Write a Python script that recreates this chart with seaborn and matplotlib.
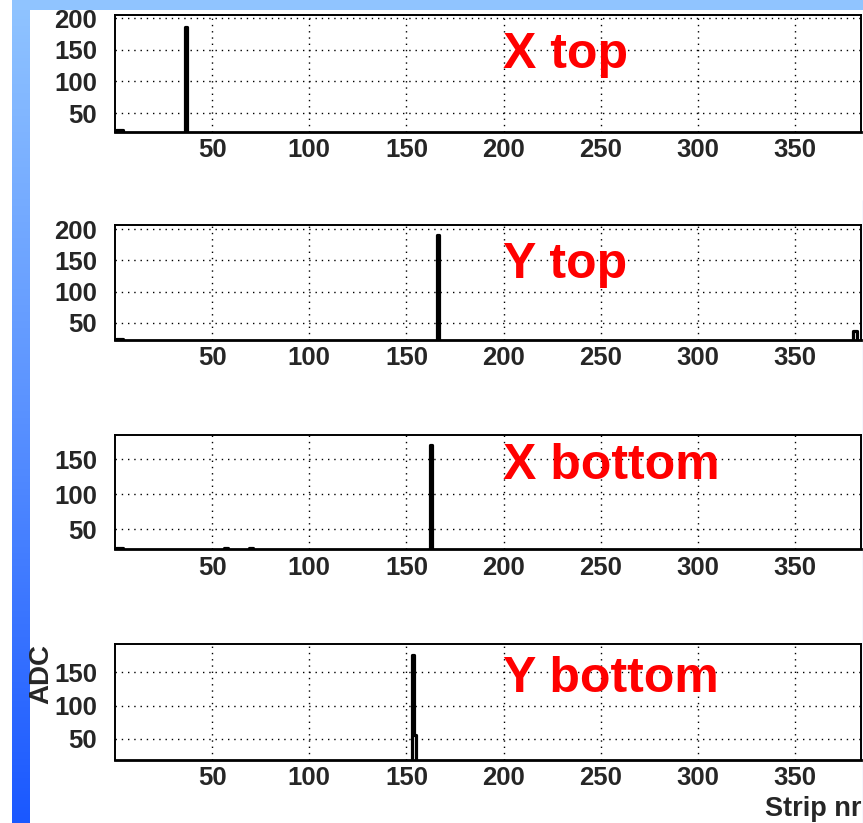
import numpy as np
import pandas as pd
import matplotlib
matplotlib.use("Agg")
import matplotlib.pyplot as plt
import seaborn as sns
from matplotlib.ticker import MultipleLocator, FixedLocator
from matplotlib.colors import LinearSegmentedColormap

# ---------------- data ----------------
N_STRIPS = 384
panel_names = ["X top", "Y top", "X bottom", "Y bottom"]

# non-zero strips (strip number, ADC) for each panel; all other strips are ~0
x_top_strips = [0, 1, 2, 3, 36]
x_top_adc = [23, 23, 23, 23, 186]
y_top_strips = [0, 1, 2, 3, 166, 380, 381]
y_top_adc = [24, 24, 24, 24, 191, 37, 37]
x_bot_strips = [0, 1, 2, 3, 56, 57, 69, 70, 162]
x_bot_adc = [23, 23, 23, 23, 23, 23, 23, 23, 170]
y_bot_strips = [153, 154]
y_bot_adc = [176, 56]

x_tick_values = [50, 100, 150, 200, 250, 300, 350]
y_tick_values = [[50, 100, 150, 200], [50, 100, 150, 200], [50, 100, 150], [50, 100, 150]]
y_limits = [(20.5, 205), (22, 207), (21, 184.5), (18.5, 192.5)]

panel_data = [(x_top_strips, x_top_adc), (y_top_strips, y_top_adc),
              (x_bot_strips, x_bot_adc), (y_bot_strips, y_bot_adc)]

# ---------------- style ----------------
sns.set_style("white")
plt.rcParams["font.family"] = ["Liberation Sans", "DejaVu Sans"]
plt.rcParams["font.weight"] = "bold"

W, H = 863, 823
fig = plt.figure(figsize=(W / 100, H / 100), dpi=100)

# slide background (blue bars)
bg = fig.add_axes([0, 0, 1, 1], zorder=-10)
bg.axis("off")
cmap = LinearSegmentedColormap.from_list("slide", ["#90c4ff", "#5a92ff", "#1a58ff"])
grad = np.linspace(0, 1, 256).reshape(-1, 1)
bg.imshow(grad, cmap=cmap, extent=[12, 29, H, 0], aspect="auto")
bg.add_patch(plt.Rectangle((12, 0), W - 12, 9.5, color="#90c4ff", lw=0))
bg.plot([862.5, 862.5], [200, H], color="#4a7dff", lw=0.8)
bg.set_xlim(0, W)
bg.set_ylim(H, 0)

# axes geometry in pixels (top, bottom)
left_px, right_px = 115, 861
panel_px = [(15, 131.7), (225, 340), (435, 549.3), (644, 760)]

strips_all = np.arange(N_STRIPS)
for i, (name, (s_list, a_list)) in enumerate(zip(panel_names, panel_data)):
    top, bot = panel_px[i]
    ax = fig.add_axes([left_px / W, 1 - bot / H, (right_px - left_px) / W, (bot - top) / H])
    adc = np.zeros(N_STRIPS)
    adc[np.array(s_list)] = a_list
    df = pd.DataFrame({"strip": strips_all + 0.5, "ADC": adc})
    sns.lineplot(data=df, x="strip", y="ADC", ax=ax, color="black", linewidth=2.3,
                 drawstyle="steps-mid", estimator=None, zorder=3)
    ax.set_xlim(0, N_STRIPS)
    ax.set_ylim(*y_limits[i])
    ax.xaxis.set_major_locator(FixedLocator(x_tick_values))
    ax.xaxis.set_minor_locator(MultipleLocator(25))
    ax.yaxis.set_major_locator(FixedLocator(y_tick_values[i]))
    ax.yaxis.set_minor_locator(MultipleLocator(25))
    ax.tick_params(which="major", direction="in", length=10.5, width=1.4,
                   labelsize=18.5, color="black")
    ax.tick_params(which="minor", direction="in", length=5.5, width=1.4, color="black")
    ax.tick_params(axis="x", which="major", pad=4.5)
    ax.tick_params(axis="y", which="major", pad=13)
    for lab in ax.get_xticklabels() + ax.get_yticklabels():
        lab.set_fontweight("bold")
    ax.grid(True, which="major", color="black", linestyle=(0, (1, 3.5)), linewidth=1.0)
    for sp in ax.spines.values():
        sp.set_color("black")
        sp.set_linewidth(1.4)
    ax.spines["bottom"].set_linewidth(2.0)
    ax.set_xlabel("")
    ax.set_ylabel("")
    ax.text(199.5, 121, name, color="#ff0000", fontsize=36, fontweight="bold",
            ha="left", va="baseline", zorder=4)
    if i == 3:
        ax.set_xlabel("Strip nr", fontsize=19.5, fontweight="bold", ha="right", va="bottom")
        ax.xaxis.set_label_coords(1.0, -(822 - bot) / (bot - top))
        ax.set_ylabel("ADC", fontsize=20, fontweight="bold", ha="right", va="center")
        ax.yaxis.set_label_coords((41 - left_px) / (right_px - left_px), 1.0)

fig.savefig("out.png", dpi=100)
